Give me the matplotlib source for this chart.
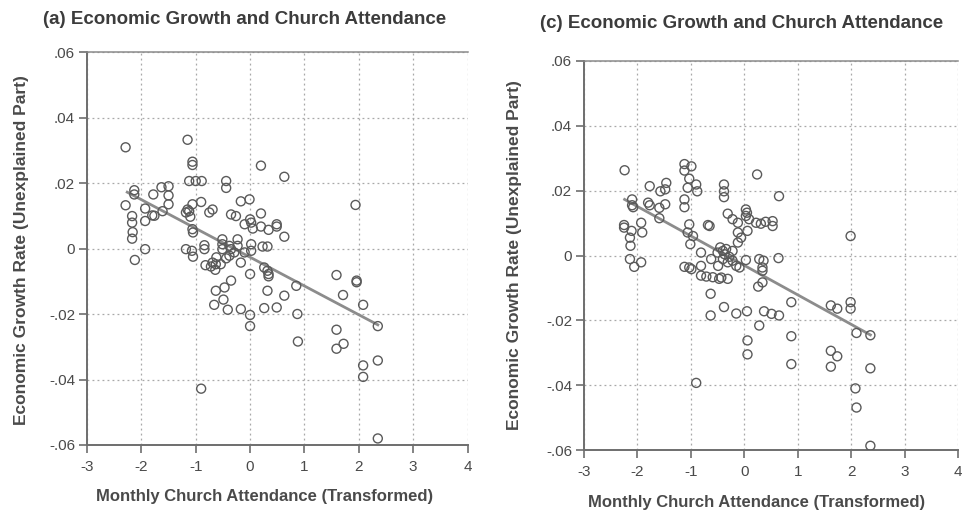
import matplotlib
matplotlib.use("Agg")
import matplotlib.pyplot as plt
from matplotlib.ticker import FixedLocator

plt.rcParams['font.family'] = ['Liberation Sans', 'DejaVu Sans']

# ---------------- data ----------------
titles = ["(a) Economic Growth and Church Attendance",
          "(c) Economic Growth and Church Attendance"]
xlabel_text = "Monthly Church Attendance (Transformed)"
ylabel_text = "Economic Growth Rate (Unexplained Part)"

x_ticks = [-3, -2, -1, 0, 1, 2, 3, 4]
x_ticklabels = ["-3", "-2", "-1", "0", "1", "2", "3", "4"]
y_ticks = [-0.06, -0.04, -0.02, 0.0, 0.02, 0.04, 0.06]
y_ticklabels = ["-.06", "-.04", "-.02", "0", ".02", ".04", ".06"]

left_x = [-2.29, -1.15, -1.06, -1.06, -1.12, -1.00, -0.89, -0.44, -0.44, 0.20,
          0.63, -2.13, -2.13, -1.78, -1.63, -1.50, -1.50, -1.50, -2.29, -2.17,
          -2.17, -2.16, -2.17, -1.93, -1.93, -1.80, -1.76, -1.61, -1.93, -2.12,
          -1.15, -1.12, -1.18, -1.10, -1.06, -1.06, -1.05, -0.90, -0.69, -0.75,
          -1.18, -1.07, -1.05, -0.84, -0.84, -0.17, -0.01, -0.35, -0.26, 0.20,
          0.00, 0.02, 0.05, -0.10, 0.20, 0.34, 0.49, 0.49, 0.63, -0.51,
          -0.51, -0.38, -0.51, -0.35, -0.23, -0.23, -0.29, -0.38, -0.44, -0.10,
          0.02, 0.02, 0.23, 0.32, -0.62, -0.69, -0.72, -0.63, -0.54, -0.64,
          -0.82, -0.17, -0.35, 0.00, 0.26, 0.32, 0.34, 0.34, -0.47, -0.63,
          0.32, 0.63, 0.85, -0.49, -0.66, -0.41, -0.17, 0.00, 0.00, -0.90,
          0.26, 0.49, 0.87, 0.88, 1.59, 1.96, 1.96, 1.71, 2.08, 2.35,
          1.59, 1.72, 1.59, 2.35, 2.08, 2.08, 2.35, 1.94]
left_y = [0.0309, 0.0332, 0.0265, 0.0255, 0.0206, 0.0206, 0.0206, 0.0206, 0.0185, 0.0253,
          0.0219, 0.0178, 0.0165, 0.0165, 0.0187, 0.0190, 0.0162, 0.0135, 0.0132, 0.0099,
          0.0079, 0.0050, 0.0030, 0.0122, 0.0084, 0.0101, 0.0100, 0.0114, -0.0002, -0.0035,
          0.0119, 0.0114, 0.0110, 0.0097, 0.0135, 0.0059, 0.0049, 0.0142, 0.0119, 0.0110,
          -0.0002, -0.0007, -0.0025, 0.0010, -0.0002, 0.0144, 0.0150, 0.0104, 0.0099, 0.0107,
          0.0089, 0.0079, 0.0061, 0.0074, 0.0067, 0.0057, 0.0074, 0.0067, 0.0036, 0.0028,
          0.0013, 0.0008, -0.0002, -0.0002, 0.0028, 0.0008, -0.0012, -0.0022, -0.0030, -0.0012,
          0.0013, -0.0007, 0.0006, 0.0006, -0.0027, -0.0043, -0.0055, -0.0048, -0.0048, -0.0065,
          -0.0051, -0.0043, -0.0098, -0.0078, -0.0058, -0.0068, -0.0078, -0.0085, -0.0119, -0.0129,
          -0.0129, -0.0144, -0.0114, -0.0156, -0.0172, -0.0187, -0.0185, -0.0203, -0.0237, -0.0428,
          -0.0182, -0.0180, -0.0200, -0.0284, -0.0081, -0.0098, -0.0103, -0.0142, -0.0172, -0.0237,
          -0.0248, -0.0291, -0.0306, -0.0342, -0.0357, -0.0392, -0.0580, 0.0133]
left_fit_x = [-2.26, 2.35]
left_fit_y = [0.0172, -0.0233]

right_x = [-2.24, -2.10, -2.08, -2.10, -2.25, -2.25, -2.11, -2.14, -2.13, -1.93,
           -1.91, -2.14, -2.06, -1.93, -1.77, -1.80, -1.77, -1.59, -1.57, -1.48,
           -1.46, -1.48, -1.59, -1.12, -1.12, -0.99, -1.03, -1.06, -0.90, -0.88,
           -1.12, -1.12, -1.03, -1.06, -0.96, -1.01, -0.68, -0.65, -1.12, -1.03,
           -0.99, -0.81, -0.62, -0.38, -0.38, -0.38, 0.24, 0.65, -0.31, -0.22,
           -0.12, 0.03, 0.05, 0.03, 0.09, 0.22, 0.31, 0.40, 0.53, 0.53,
           -0.12, -0.06, 0.06, -0.12, -0.45, -0.40, -0.34, -0.50, -0.37, -0.28,
           -0.40, -0.22, -0.49, -0.31, -0.15, -0.09, -0.22, -0.81, -0.81, -0.71,
           -0.59, -0.47, -0.31, -0.43, -0.63, 0.03, 0.28, 0.36, 0.34, 0.34,
           0.64, 0.26, 0.34, 1.99, -0.38, -0.63, -0.15, 0.05, 0.37, 0.51,
           0.65, 0.28, 0.06, 0.06, 0.88, 0.88, 0.88, 1.62, 1.74, 1.99,
           1.99, 2.10, 2.36, 1.62, 1.74, 1.62, 2.36, 2.08, 2.10, 2.36,
           -0.90]
right_y = [0.0263, 0.0173, 0.0149, 0.0155, 0.0094, 0.0086, 0.0076, 0.0055, 0.0030, 0.0101,
           0.0071, -0.0011, -0.0035, -0.0021, 0.0214, 0.0163, 0.0155, 0.0147, 0.0198, 0.0204,
           0.0224, 0.0158, 0.0115, 0.0282, 0.0262, 0.0275, 0.0237, 0.0209, 0.0219, 0.0198,
           0.0173, 0.0149, 0.0096, 0.0071, 0.0060, 0.0035, 0.0094, 0.0091, -0.0035, -0.0037,
           -0.0042, 0.0009, -0.0011, 0.0219, 0.0198, 0.0180, 0.0250, 0.0183, 0.0129, 0.0112,
           0.0101, 0.0142, 0.0132, 0.0122, 0.0112, 0.0101, 0.0098, 0.0104, 0.0106, 0.0091,
           0.0071, 0.0055, 0.0076, 0.0040, 0.0025, 0.0014, 0.0020, 0.0009, 0.0004, -0.0004,
           -0.0011, -0.0016, -0.0032, -0.0021, -0.0032, -0.0037, 0.0014, -0.0032, -0.0062, -0.0065,
           -0.0067, -0.0072, -0.0072, -0.0068, -0.0118, -0.0014, -0.0011, -0.0016, -0.0037, -0.0047,
           -0.0008, -0.0096, -0.0083, 0.0060, -0.0159, -0.0185, -0.0179, -0.0172, -0.0172, -0.0180,
           -0.0185, -0.0216, -0.0262, -0.0305, -0.0144, -0.0249, -0.0335, -0.0154, -0.0164, -0.0144,
           -0.0164, -0.0239, -0.0246, -0.0294, -0.0311, -0.0343, -0.0348, -0.0410, -0.0469, -0.0587,
           -0.0393]
right_fit_x = [-2.24, 2.36]
right_fit_y = [0.0173, -0.0245]

# ---------------- figure ----------------
W, H = 963, 514
fig = plt.figure(figsize=(W / 100, H / 100), dpi=100)
fig.patch.set_facecolor("white")

def px_axes(x0, x1, ytop, ybot):
    return [x0 / W, 1 - ybot / H, (x1 - x0) / W, (ybot - ytop) / H]

panels = [
    dict(rect=px_axes(87, 467.5, 52, 445), x=left_x, y=left_y,
         fx=left_fit_x, fy=left_fit_y, title=titles[0],
         title_xy=(43, 20), ylab_xy=(22, 250), xlab_xy=(265, 496)),
    dict(rect=px_axes(584, 958, 61, 450), x=right_x, y=right_y,
         fx=right_fit_x, fy=right_fit_y, title=titles[1],
         title_xy=(540, 23), ylab_xy=(514, 255), xlab_xy=(757, 503)),
]

text_col = "#4a4a4a"
axis_col = "#6e6e6e"

for p in panels:
    ax = fig.add_axes(p["rect"])
    ax.set_xlim(-3, 4)
    ax.set_ylim(-0.06, 0.06)
    ax.xaxis.set_major_locator(FixedLocator(x_ticks))
    ax.yaxis.set_major_locator(FixedLocator(y_ticks))
    ax.set_xticklabels(x_ticklabels)
    ax.set_yticklabels(y_ticklabels)
    ax.grid(True, linestyle=(0, (1.5, 2.5)), color="#a8a8a8", linewidth=0.9)
    ax.set_axisbelow(True)
    ax.spines["right"].set_visible(False)
    for s in ["left", "bottom", "top"]:
        ax.spines[s].set_color(axis_col)
        ax.spines[s].set_linewidth(1.4)
    ax.spines["top"].set_linewidth(1.1)
    ax.spines["top"].set_color("#8a8a8a")
    ax.tick_params(axis="both", direction="out", length=6, width=1.2,
                   color=axis_col, labelcolor=text_col, labelsize=11)
    ax.tick_params(axis="y", pad=2.5)
    ax.tick_params(axis="x", pad=5)
    ax.plot(p["fx"], p["fy"], color="#8c8c8c", linewidth=2.0, zorder=2)
    ax.scatter(p["x"], p["y"], s=42, facecolors="none", edgecolors="#5a5a5a",
               linewidths=1.0, zorder=3)
    fig.text(p["title_xy"][0] / W, 1 - p["title_xy"][1] / H, p["title"],
             fontsize=13.5, fontweight="bold", color="#3c3c3c",
             ha="left", va="center")
    fig.text(p["ylab_xy"][0] / W, 1 - p["ylab_xy"][1] / H, ylabel_text,
             fontsize=12.5, fontweight="bold", color=text_col,
             ha="center", va="center", rotation=90)
    fig.text(p["xlab_xy"][0] / W, 1 - p["xlab_xy"][1] / H, xlabel_text,
             fontsize=12, fontweight="bold", color=text_col,
             ha="center", va="center")

fig.savefig("out.png", dpi=100, facecolor="white")
